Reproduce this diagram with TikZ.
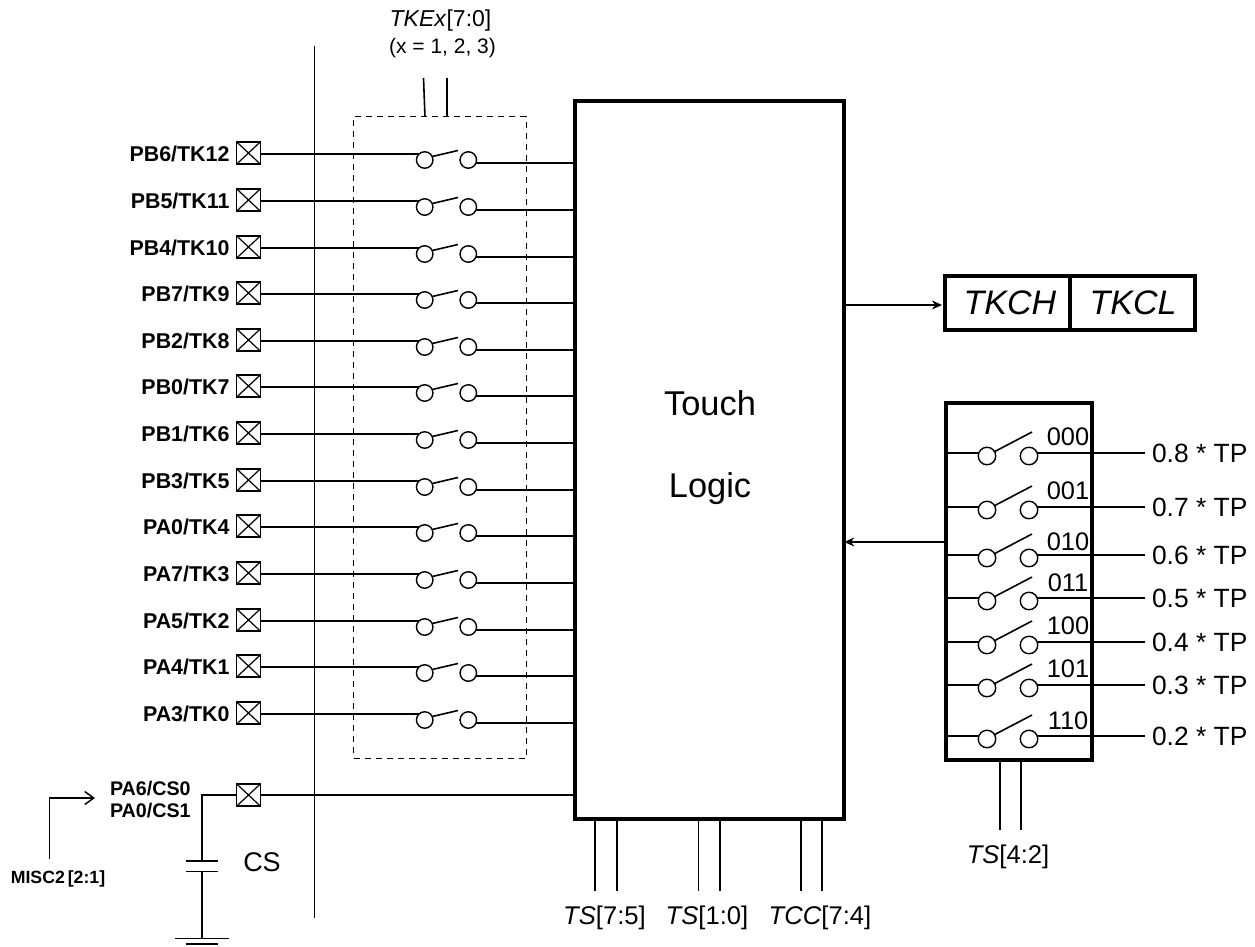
\documentclass[tikz,border=0pt]{standalone}
\usepackage{fontspec}
\setmainfont{Liberation Sans}
\usetikzlibrary{arrows.meta}
\tikzset{
  wire/.style={line width=1.6pt,black},
  fs/.style={font=\fontsize{#1}{#1}\selectfont},
  lbl/.style={inner sep=0pt,outer sep=0pt},
  padbox/.style={draw,line width=1.6pt,minimum width=24pt,minimum height=22.5pt,inner sep=0pt,outer sep=0pt,
    path picture={\draw[line width=1.2pt] (path picture bounding box.north west)--(path picture bounding box.south east)
      (path picture bounding box.south west)--(path picture bounding box.north east);}},
  contact/.style={circle,draw,line width=1.4pt,minimum size=16.5pt,inner sep=0pt,outer sep=0pt,fill=white},
  heavy/.style={draw,line width=4pt,inner sep=0pt,outer sep=0pt},
  tiplabel/.style={lbl,fs=26.4,anchor=west,inner xsep=7pt},
  pinlabel/.style={lbl,font=\fontsize{21.4}{21}\selectfont\bfseries,anchor=east},
  arr/.style={wire,-{Stealth[length=10pt,width=9pt]}}
}
\begin{document}
\begin{tikzpicture}[x=1pt,y=-1pt]
\useasboundingbox[fill=white] (0,0) rectangle (1255,947);
% main blocks
\node[heavy,minimum width=269.5pt,minimum height=718pt] (logic) at (709.5,460) {};
\node[lbl,fs=34.4] (touch) at (710,403) {Touch};
\node[lbl,fs=34.4] (logictxt) at (710,489) {Logic};
\node[draw,dashed,line width=1.3pt,dash pattern=on 6pt off 5pt,minimum width=172.5pt,minimum height=641.5pt,inner sep=0pt,outer sep=0pt] (dash) at (440,437.5) {};
% bus
\coordinate (bust) at (314.5,46); \coordinate (busb) at (314.5,918);
\draw[wire] (bust)--(busb);
% TKEx
\node[lbl,fs=23] (tke) at (440.5,20.5) {\textit{TKEx}[7:0]};
\node[lbl,fs=21] (tkx) at (442.5,48.5) {(x = 1, 2, 3)};
\coordinate (tkea) at (423.5,78); \coordinate (tkeb) at (447,78); \coordinate (tkec) at (425,116.5);
\draw[wire] (tkea)--(tkec |- dash.north);
\draw[wire] (tkeb)--(tkeb |- dash.north);
% touch pins
\foreach \i/\y/\t in {1/154/PB6\slash TK12,2/201/PB5\slash TK11,3/248/PB4\slash TK10,4/294/PB7\slash TK9,5/341/PB2\slash TK8,6/387/PB0\slash TK7,7/434/PB1\slash TK6,8/481/PB3\slash TK5,9/527/PA0\slash TK4,10/574/PA7\slash TK3,11/621/PA5\slash TK2,12/667/PA4\slash TK1,13/714/PA3\slash TK0}{
  \node[padbox] (p\i) at (248.5,\y-1) {};
  \node[pinlabel] (n\i) at (229.5,\y) {\t};
  \node[contact] (a\i) at (424.7,\y+6) {};
  \node[contact] (b\i) at (468.3,\y+6) {};
  \coordinate (f\i) at (458,\y-3.5);
  \coordinate (i\i) at (419,\y);
  \coordinate (o\i) at (475.5,\y+9);
  \draw[wire] (p\i.east |- i\i)--(i\i);
  \draw[wire] (a\i.25)--(f\i);
  \draw[wire] (o\i)--(o\i -| logic.west);
}
% CS pin
\node[padbox] (pcs) at (248.5,795) {};
\draw[wire] (pcs.east)--(pcs.east -| logic.west);
\node[lbl,font=\fontsize{19.7}{19}\selectfont\bfseries,anchor=west] (cs0) at (110,788.5) {PA6\slash CS0};
\node[lbl,font=\fontsize{19.7}{19}\selectfont\bfseries,anchor=west] (cs1) at (110,811) {PA0\slash CS1};
\node[lbl,font=\fontsize{17.7}{17}\selectfont\bfseries] (misc) at (58,879) {MISC2\,[2:1]};
\coordinate (mt) at (49.5,858.5); \coordinate (me) at (95,798);
\draw[wire,-{Straight Barb[length=9pt,width=13pt,line width=1.5pt]}] (mt)--(mt |- me)--(me);
\coordinate (cp1) at (202,861); \coordinate (cp2) at (202,871.5); \coordinate (gnd) at (202,938.5); \coordinate (gnd2) at (202,944);
\draw[wire] (pcs.west)--(cp1 |- pcs.west)--(cp1);
\draw[wire] (cp2)--(gnd);
\draw[wire] ([xshift=-16pt]cp1)--([xshift=16pt]cp1);
\draw[wire] ([xshift=-16pt]cp2)--([xshift=16pt]cp2);
\draw[line width=1.8pt] ([xshift=-27pt]gnd)--([xshift=27pt]gnd);
\draw[wire] ([xshift=-16pt]gnd2)--([xshift=16pt]gnd2);
\node[lbl,fs=27] (cslab) at (262,862) {CS};
% bottom control lines
\foreach \k/\xa/\xb/\lx/\t in {1/595/617/604.5/\textit{TS}[7:5],2/698.5/720/707/\textit{TS}[1:0],3/801/822/820/\textit{TCC}[7:4]}{
  \coordinate (ca\k) at (\xa,891); \coordinate (cb\k) at (\xb,891);
  \draw[wire] (ca\k)--(ca\k |- logic.south);
  \draw[wire] (cb\k)--(cb\k |- logic.south);
  \node[lbl,fs=25.6] (cl\k) at (\lx,917.5) {\t};
}
% TKCH/TKCL
\node[heavy,minimum width=125pt,minimum height=54pt] (tkch) at (1007.5,302.5) {};
\node[heavy,minimum width=125pt,minimum height=54pt] (tkcl) at (1132.5,302.5) {};
\node[lbl,fs=34] at (1010,302.5) {\textit{TKCH}};
\node[lbl,fs=34] at (1133,302.5) {\textit{TKCL}};
\coordinate (ta) at (945,305);
\draw[arr,shorten >=3pt] (ta -| logic.east)--(ta);
% threshold selector
\node[heavy,minimum width=146.6pt,minimum height=357pt] (sel) at (1019,581.5) {};
\coordinate (sa) at (945.7,542);
\draw[arr] (sa)--(sa -| logic.east);
\foreach \i/\y/\c/\cy/\t in {1/453/000/436/0.8,2/507/001/490/0.7,3/555/010/541/0.6,4/598/011/582/0.5,5/642/100/625/0.4,6/685/101/668/0.3,7/736/110/720/0.2}{
  \node[contact,minimum size=17.5pt] (sl\i) at (987,\y+3) {};
  \node[contact,minimum size=17.5pt] (sr\i) at (1029,\y+3) {};
  \coordinate (sf\i) at (1032,\y-21);
  \coordinate (sp\i) at (979,\y);
  \coordinate (sq\i) at (1037,\y);
  \node[lbl,fs=25.4] (code\i) at (1068,\cy+0.5) {\c};
  \node[tiplabel] (tp\i) at (1145,\y) {\t{} * TP};
  \draw[wire] (sp\i -| sel.west)--(sp\i);
  \draw[wire] (sl\i.30)--(sf\i);
  \draw[wire] (sq\i)--(sq\i -| tp\i.west);
}
\coordinate (sta) at (1000,830); \coordinate (stb) at (1021,830);
\draw[wire] (sta)--(sta |- sel.south);
\draw[wire] (stb)--(stb |- sel.south);
\node[lbl,fs=25.6] (stl) at (1008,856.5) {\textit{TS}[4:2]};
\end{tikzpicture}
\end{document}
